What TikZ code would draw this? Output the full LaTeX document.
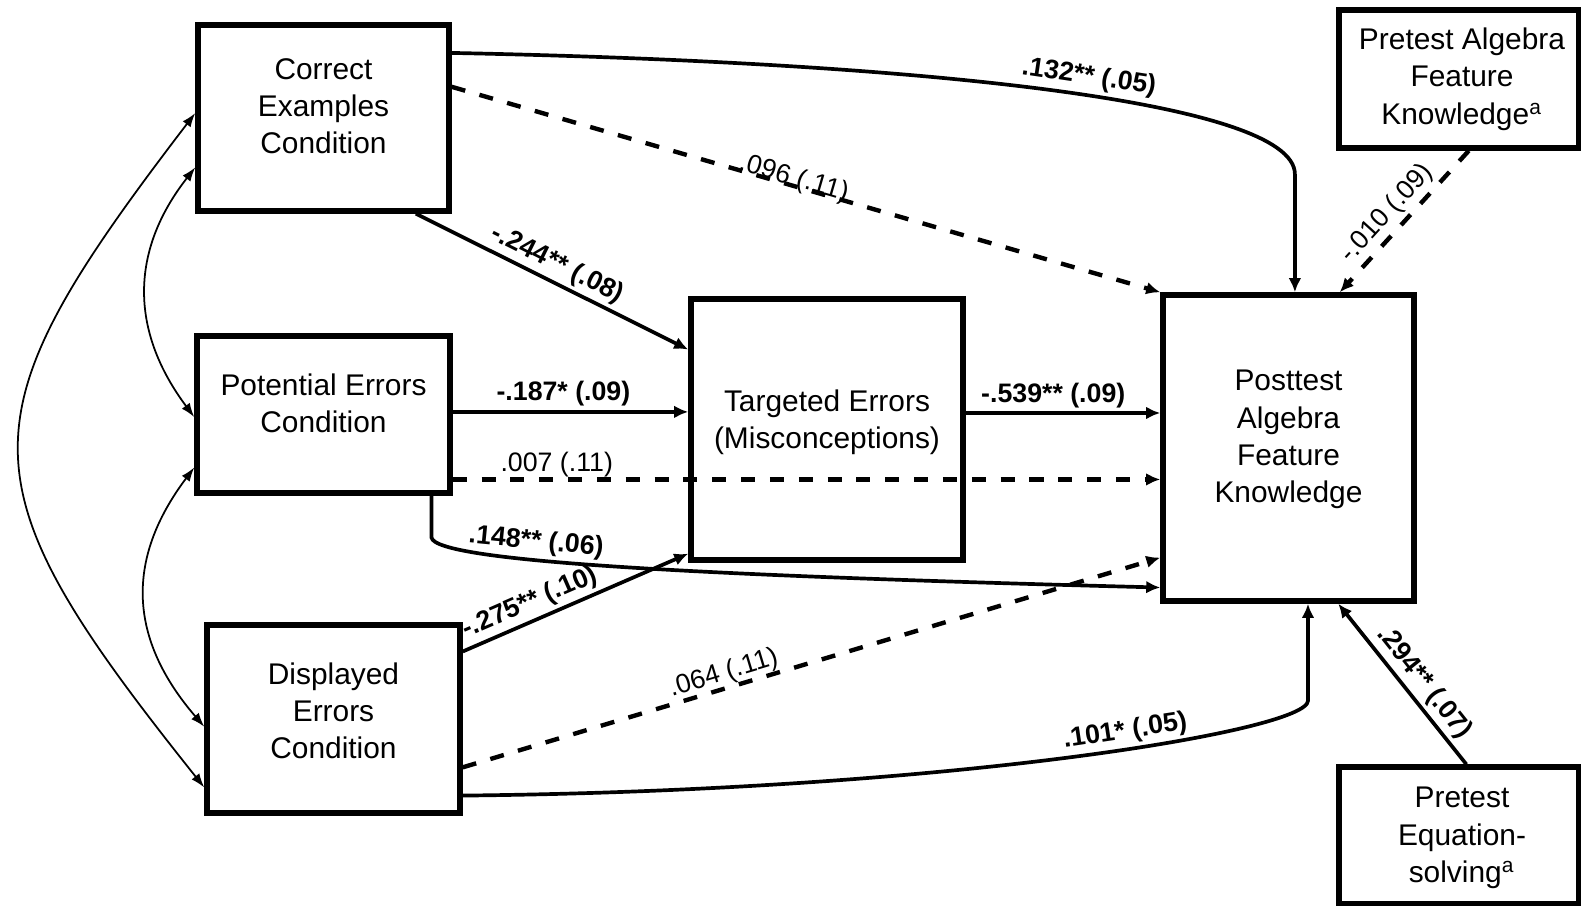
\documentclass[tikz,border=0pt]{standalone}
\usepackage{fontspec}
\setmainfont{Liberation Sans}
\usetikzlibrary{calc,arrows.meta}
\tikzset{
  varbox/.style   = {draw, line width=1.5pt, inner sep=0pt},
  vartext/.style  = {align=center, inner sep=0pt, font=\fontsize{8.5}{10.6}\selectfont},
  effect/.style   = {-{Latex[length=4pt,width=3.6pt]}, line width=1.05pt},
  nseffect/.style = {effect, line width=1.25pt, dash pattern=on 4pt off 4.2pt},
  corr/.style     = {{Latex[length=4pt,width=2.8pt]}-{Latex[length=4pt,width=2.8pt]},
                     line width=0.5pt},
  coef/.style     = {sloped, above, inner sep=1pt, font=\bfseries\fontsize{7.6}{9}\selectfont},
  nscoef/.style   = {sloped, above, inner sep=1pt, font=\fontsize{7.6}{9}\selectfont},
}
\begin{document}
\begin{tikzpicture}[x=0.01cm, y=-0.01cm]
  \useasboundingbox (0,0) rectangle (1581,906);
  % boxes
  \node[varbox, minimum width=2.51cm, minimum height=1.86cm] (ce) at (323.5,118) {};
  \node[varbox, minimum width=2.53cm, minimum height=1.57cm] (pe) at (323.5,414.5) {};
  \node[varbox, minimum width=2.53cm, minimum height=1.88cm] (de) at (333.5,719) {};
  \node[varbox, minimum width=2.72cm, minimum height=2.61cm] (te) at (827,429.5) {};
  \node[varbox, minimum width=2.51cm, minimum height=3.06cm] (pt) at (1288.5,448) {};
  \node[varbox, minimum width=2.40cm, minimum height=1.38cm] (pa) at (1459,79) {};
  \node[varbox, minimum width=2.40cm, minimum height=1.37cm] (pq) at (1459,835.5) {};
  \node[vartext] (ce-t) at ([yshift=0.12cm]ce.center) {Correct\\Examples\\Condition};
  \node[vartext] (pe-t) at ([yshift=0.115cm]pe.center) {Potential Errors\\Condition};
  \node[vartext] (de-t) at ([yshift=0.08cm]de.center) {Displayed\\Errors\\Condition};
  \node[vartext] (te-t) at ([yshift=0.075cm]te.center) {Targeted Errors\\(Misconceptions)};
  \node[vartext] (pt-t) at ([yshift=0.085cm]pt.center) {Posttest\\Algebra\\Feature\\Knowledge};
  \node[vartext] (pa-t) at ([xshift=0.03cm]pa.center) {Pretest Algebra\\Feature\\Knowledge\textsuperscript{a}};
  \node[vartext] (pq-t) at ([xshift=0.03cm, yshift=-0.025cm]pq.center) {Pretest\\Equation-\\solving\textsuperscript{a}};
  % paths from the conditions
  \draw[effect] ($(ce.north east)!0.16!(ce.south east)$) .. controls +(449,9) and +(0,-75) ..
    ($(pt.north west)!0.525!(pt.north east)+(0,-118)$) node[coef, pos=0.55] {.132** (.05)}
    -- ($(pt.north west)!0.525!(pt.north east)$);
  \draw[nseffect] ($(ce.north east)!0.337!(ce.south east)$) -- node[nscoef, pos=0.48, anchor=base] {.096 (.11)} (pt.north west);
  \draw[effect] ($(ce.south west)!0.86!(ce.south east)$) -- node[coef, pos=0.49] {-.244** (.08)} ($(te.north west)!0.2!(te.south west)$);
  \draw[effect] ($(pe.north east)!0.484!(pe.south east)$) coordinate (pe-a) -- node[coef, pos=0.47] {-.187* (.09)} (pe-a -| te.west);
  \draw[nseffect] ($(pe.north east)!0.9!(pe.south east)$) coordinate (pe-b) -- node[nscoef, pos=0.147, inner sep=0pt] {.007 (.11)} (pe-b -| pt.west);
  \draw[effect] ($(te.north east)!0.438!(te.south east)$) coordinate (te-a) -- node[coef, pos=0.45] {-.539** (.09)} (te-a -| pt.west);
  \draw[effect] ($(pe.south west)!0.918!(pe.south east)$) -- ++(0,42) .. controls +(5,24) and +(-461,-12) ..
    ($(pt.north west)!0.948!(pt.south west)$) node[coef, pos=0.36] {.148** (.06)};
  \draw[effect] ($(de.north east)!0.151!(de.south east)$) -- node[coef, pos=0.33] {-.275** (.10)} ($(te.north west)!0.966!(te.south west)$);
  \draw[nseffect] ($(de.north east)!0.75!(de.south east)$) -- node[nscoef, pos=0.38, inner sep=0pt] {.064 (.11)} ($(pt.north west)!0.852!(pt.south west)$);
  \draw[effect] ($(de.north east)!0.896!(de.south east)$) .. controls +(488,-5) and +(0,30) ..
    ($(pt.south west)!0.576!(pt.south east)+(0,97)$) node[coef, pos=0.57] {.101* (.05)}
    -- ($(pt.south west)!0.576!(pt.south east)$);
  % covariates
  \draw[nseffect] ($(pa.south west)!0.54!(pa.south east)$) -- node[nscoef, pos=0.53] {-.010 (.09)} ($(pt.north west)!0.70!(pt.north east)$);
  \draw[effect] ($(pq.north west)!0.53!(pq.north east)$) -- node[coef, pos=0.44] {.294** (.07)} ($(pt.south west)!0.694!(pt.south east)$);
  % correlations between conditions
  \draw[corr] ($(ce.north west)!0.758!(ce.south west)$) .. controls +(-65,83) and +(-65,-87) .. ($(pe.north west)!0.516!(pe.south west)$);
  \draw[corr] ($(pe.north west)!0.826!(pe.south west)$) .. controls +(-70,93) and +(-75,-87) .. ($(de.north west)!0.54!(de.south west)$);
  \draw[corr] ($(ce.north west)!0.474!(ce.south west)$) .. controls +(-235,307) and +(-245,-307) .. ($(de.north west)!0.854!(de.south west)$);
\end{tikzpicture}
\end{document}
